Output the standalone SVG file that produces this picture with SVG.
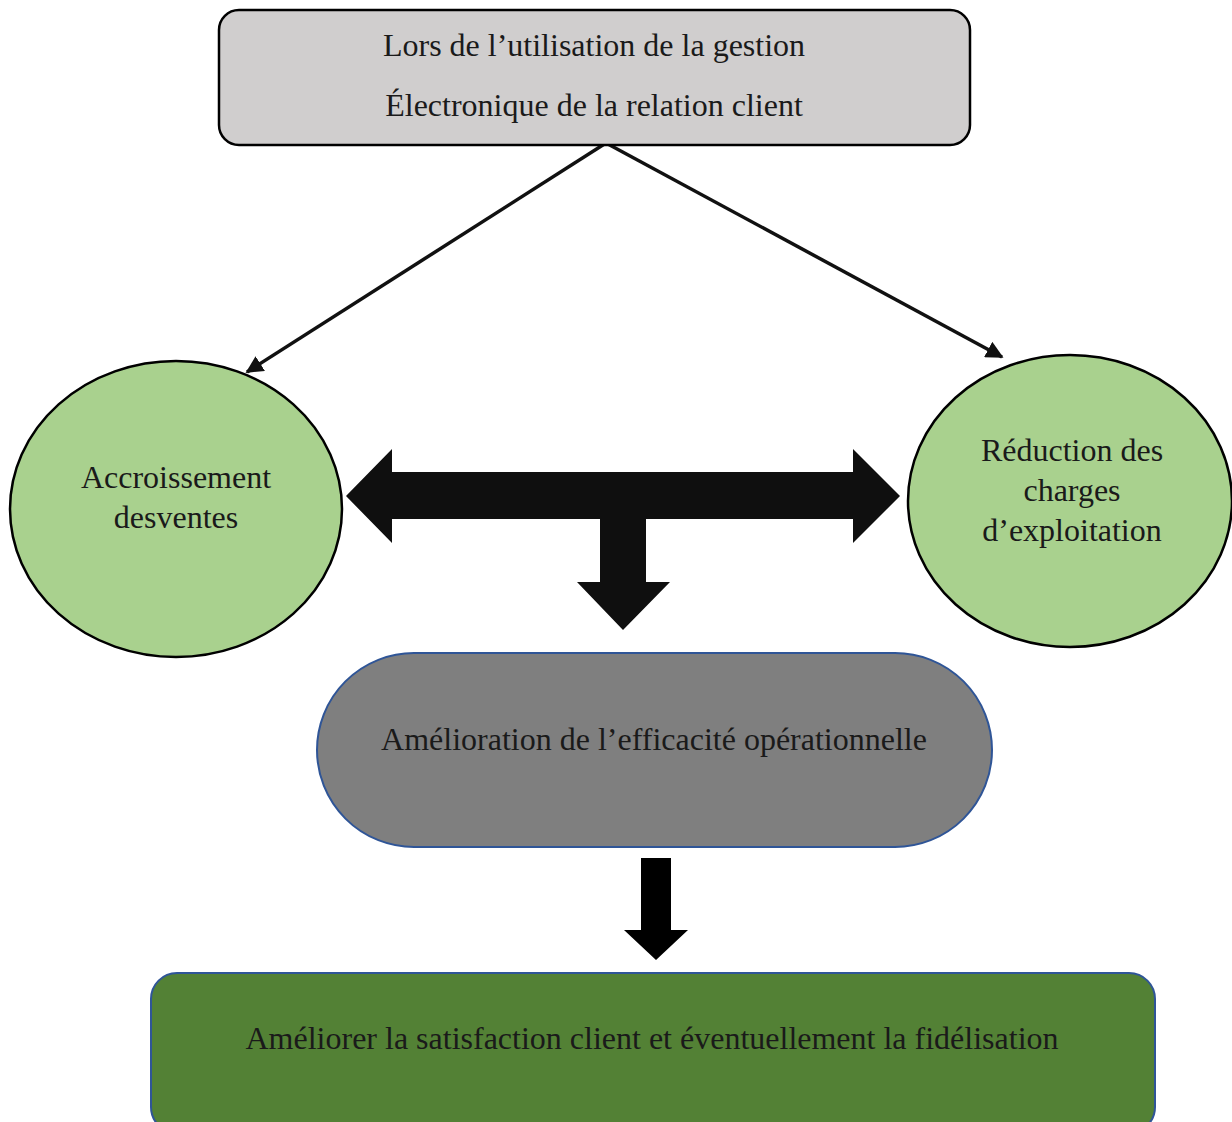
<svg xmlns="http://www.w3.org/2000/svg" width="1232" height="1122" viewBox="0 0 1232 1122">
  <style>
    .lbl { font-family: "Liberation Serif", "Times New Roman", serif; font-size: 32px; fill: #1a1a1a; text-anchor: middle; }
    .green { fill: #a9d18e; stroke: #000; stroke-width: 2.5; }
    .line { stroke: #111; stroke-width: 3.5; fill: none; }
    .block { fill: #0f0f0f; }
  </style>
  <defs>
    <marker id="tip" viewBox="0 0 10 10" refX="9" refY="5" markerWidth="5" markerHeight="5" orient="auto" markerUnits="strokeWidth">
      <path d="M0,0 L10,5 L0,10 z" fill="#111"/>
    </marker>
  </defs>

  <rect width="1232" height="1122" fill="#ffffff"/>

  <!-- connectors -->
  <g id="connectors">
    <line class="line" x1="606" y1="143" x2="247" y2="372" marker-end="url(#tip)"/>
    <line class="line" x1="606" y1="143" x2="1002" y2="357" marker-end="url(#tip)"/>
    <!-- double-headed arrow with downward branch -->
    <path class="block" d="M346,496 L392,449 L392,472 L853,472 L853,449 L900,496 L853,543 L853,519 L646,519 L646,582 L670,582 L623,630 L577,582 L600,582 L600,519 L392,519 L392,543 Z"/>
    <!-- downward arrow to the final box -->
    <path fill="#000" d="M641,858 L671,858 L671,930 L688,930 L656,960 L624,930 L641,930 Z"/>
  </g>

  <g id="node-crm">
    <rect x="219" y="10" width="751" height="135" rx="20" fill="#d0cece" stroke="#000" stroke-width="2.5"/>
    <text class="lbl" x="594" y="56">Lors de l’utilisation de la gestion</text>
    <text class="lbl" x="594" y="116">Électronique de la relation client</text>
  </g>

  <g id="node-ventes">
    <ellipse class="green" cx="176" cy="509" rx="166" ry="148"/>
    <text class="lbl" x="176" y="488">Accroissement</text>
    <text class="lbl" x="176" y="528">desventes</text>
  </g>

  <g id="node-charges">
    <ellipse class="green" cx="1070" cy="501" rx="162" ry="146"/>
    <text class="lbl" x="1072" y="461">Réduction des</text>
    <text class="lbl" x="1072" y="501">charges</text>
    <text class="lbl" x="1072" y="541">d’exploitation</text>
  </g>

  <g id="node-efficacite">
    <rect x="317" y="653" width="675" height="194" rx="97" fill="#7f7f7f" stroke="#2f5597" stroke-width="2"/>
    <text class="lbl" x="654" y="750">Amélioration de l’efficacité opérationnelle</text>
  </g>

  <g id="node-satisfaction">
    <rect x="151" y="973" width="1004" height="160" rx="26" fill="#538135" stroke="#2f5597" stroke-width="2"/>
    <text class="lbl" x="652" y="1049">Améliorer la satisfaction client et éventuellement la fidélisation</text>
  </g>
</svg>
